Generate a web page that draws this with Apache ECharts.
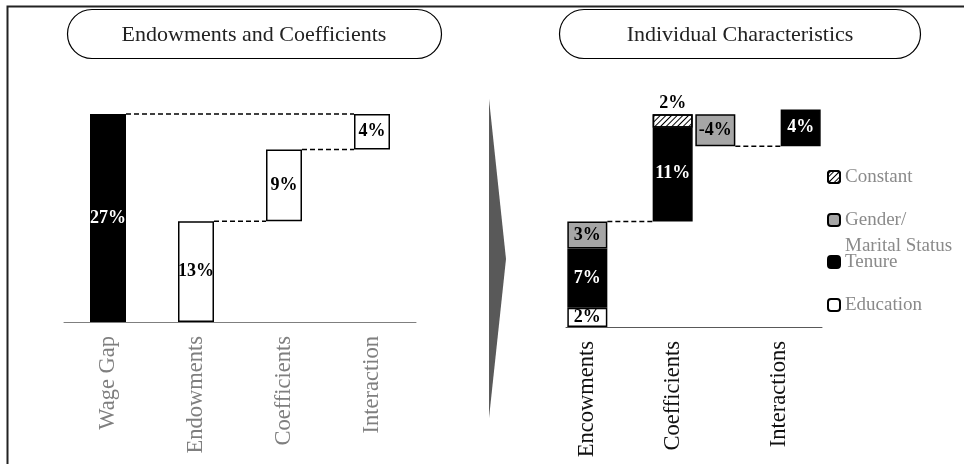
<!DOCTYPE html>
<html><head><meta charset="utf-8">
<script src="https://cdn.jsdelivr.net/npm/echarts@6/dist/echarts.min.js"></script>
<style>html,body{margin:0;padding:0;background:#fff}#c{width:964px;height:464px}</style>
</head><body><div id="c"></div>
<script>
// ---- Left panel: Endowments and Coefficients ----
const leftCategories = ['Wage Gap', 'Endowments', 'Coefficients', 'Interaction'];
const leftValues = [27, 13.1, 9.3, 4.6];
const leftLabels = ['27%', '13%', '9%', '4%'];

// ---- Right panel: Individual Characteristics ----
const rightCategories = ['Encowments', 'Coefficients', 'Interactions'];
// [endowments, coefficients]
const educationValues = [2.4, 0.3];
const tenureValues = [7.4, 11.4];
const genderValues = [3.4, -4.0];
const constantValues = [null, 1.7];
const interactionValue = 4.6;
const educationLabels = ['2%', ''];
const tenureLabels = ['7%', '11%'];
const genderLabels = ['3%', '-4%'];
const constantLabels = ['', '2%'];
const interactionLabel = '4%';
const legendNames = ['Constant', 'Gender/Marital Status', 'Tenure', 'Education'];

const FONT = "'Liberation Serif', 'DejaVu Serif', serif";
const GRAY_GENDER = '#a6a6a6';

// derived left waterfall
const leftBase = [0, 0, leftValues[1], leftValues[1] + leftValues[2]];
const leftConnectors = [
  [0, 3, leftValues[0]],
  [1, 2, leftValues[1]],
  [2, 3, leftValues[1] + leftValues[2]]
];

// derived right waterfall: 6 slots -> 0 endowments, 2 coefficients, 3 gender coef, 5 interactions
const endowTop = educationValues[0] + tenureValues[0] + genderValues[0];
const coefTop = endowTop + educationValues[1] + tenureValues[1] + constantValues[1];
const genderBottom = coefTop + genderValues[1];
const slots = ['s0', 's1', 's2', 's3', 's4', 's5'];
const rBase = [0, null, endowTop, genderBottom, null, genderBottom];
const rEdu = [educationValues[0], null, educationValues[1], null, null, null];
const rTen = [tenureValues[0], null, tenureValues[1], null, null, null];
const rGen = [genderValues[0], null, null, Math.abs(genderValues[1]), null, null];
const rConst = [null, null, constantValues[1], null, null, null];
const rInter = [null, null, null, null, null, interactionValue];
const slotLabel = {
  edu: [educationLabels[0], '', educationLabels[1], '', '', ''],
  ten: [tenureLabels[0], '', tenureLabels[1], '', '', ''],
  gen: [genderLabels[0], '', '', genderLabels[1], '', ''],
  con: ['', '', constantLabels[1], '', '', ''],
  int: ['', '', '', '', '', interactionLabel]
};
const rightConnectors = [
  [0, 2, endowTop],
  [3, 5, genderBottom]
];
const rightLabelPos = [0.5, 2.5, 5.0];

function connectorSeries(xi, yi, data, bw) {
  return {
    type: 'custom', xAxisIndex: xi, yAxisIndex: yi, data: data, silent: true, z: 1,
    encode: { x: 0, y: 2 },
    renderItem: function (params, api) {
      const p1 = api.coord([api.value(0), api.value(2)]);
      const p2 = api.coord([api.value(1), api.value(2)]);
      return {
        type: 'line',
        shape: { x1: p1[0] + bw / 2, y1: p1[1], x2: p2[0] - bw / 2, y2: p2[1] },
        style: { stroke: '#000', lineWidth: 1.5, lineDash: [5, 3] }
      };
    }
  };
}

const labelBase = { show: true, fontFamily: FONT, fontWeight: 'bold', fontSize: 18 };
const border = { borderColor: '#000', borderWidth: 1.5 };
const legendText = { color: '#8a8a8a', fontFamily: FONT, fontSize: 19, lineHeight: 24 };

const chart = echarts.init(document.getElementById('c'));
chart.setOption({
  animation: false,
  backgroundColor: '#fff',
  grid: [
    { left: 64, width: 352, top: 91, height: 231 },
    { left: 566, width: 256, top: 87, height: 240 }
  ],
  xAxis: [
    {
      type: 'category', gridIndex: 0, data: leftCategories, position: 'bottom',
      axisLine: { lineStyle: { color: '#7f7f7f', width: 1 } }, axisTick: { show: false },
      axisLabel: { rotate: 90, margin: 14, color: '#7f7f7f', fontFamily: FONT, fontSize: 22.5 }
    },
    {
      type: 'category', gridIndex: 1, data: slots, position: 'bottom',
      axisLine: { show: false }, axisTick: { show: false }, axisLabel: { show: false }
    },
    {
      type: 'value', gridIndex: 1, min: 0, max: 6, position: 'bottom',
      axisLine: { show: true, onZero: false, lineStyle: { color: '#595959', width: 1 } },
      axisTick: { show: false }, splitLine: { show: false },
      axisLabel: {
        customValues: rightLabelPos, rotate: 90, margin: 14, color: '#111',
        fontFamily: FONT, fontSize: 22.5,
        formatter: function (v) {
          const i = rightLabelPos.indexOf(v);
          return i >= 0 ? rightCategories[i] : '';
        }
      }
    }
  ],
  yAxis: [
    { type: 'value', gridIndex: 0, min: 0, max: 30, show: false },
    { type: 'value', gridIndex: 1, min: 0, max: 30, show: false }
  ],
  legend: [
    { data: [legendNames[0]], left: 827, top: 165, padding: 0, itemWidth: 12, itemHeight: 12, textStyle: legendText },
    { data: [legendNames[1]], left: 827, top: 181, padding: 0, itemWidth: 12, itemHeight: 12,
      formatter: function () { return '\nGender/\nMarital Status'; },
      textStyle: { color: '#8a8a8a', fontFamily: FONT, fontSize: 19, lineHeight: 26 } },
    { data: [legendNames[2]], left: 827, top: 250, padding: 0, itemWidth: 12, itemHeight: 12, textStyle: legendText },
    { data: [legendNames[3]], left: 827, top: 293, padding: 0, itemWidth: 12, itemHeight: 12, textStyle: legendText }
  ],
  graphic: [
    { type: 'rect', shape: { x: 7.5, y: 6.5, width: 1000, height: 500 },
      style: { fill: 'none', stroke: '#222', lineWidth: 2 }, silent: true },
    { type: 'rect', shape: { x: 67.5, y: 9.5, width: 374, height: 49, r: 24.5 },
      style: { fill: '#fff', stroke: '#000', lineWidth: 1.2 }, silent: true },
    { type: 'rect', shape: { x: 559.5, y: 9.5, width: 361, height: 49, r: 24.5 },
      style: { fill: '#fff', stroke: '#000', lineWidth: 1.2 }, silent: true },
    { type: 'text', x: 254, y: 35, silent: true,
      style: { text: 'Endowments and Coefficients', fill: '#222', font: "22px " + FONT, textAlign: 'center', textVerticalAlign: 'middle' } },
    { type: 'text', x: 740, y: 35, silent: true,
      style: { text: 'Individual Characteristics', fill: '#222', font: "22px " + FONT, textAlign: 'center', textVerticalAlign: 'middle' } },
    { type: 'polygon', shape: { points: [[489, 99], [506, 259], [489, 418]] },
      style: { fill: '#595959' }, silent: true }
  ],
  series: [
    // left waterfall
    { type: 'bar', name: 'leftBase', xAxisIndex: 0, yAxisIndex: 0, stack: 'L', barWidth: 36,
      data: leftBase, itemStyle: { color: 'transparent' }, silent: true },
    { type: 'bar', name: 'leftVal', xAxisIndex: 0, yAxisIndex: 0, stack: 'L', barWidth: 36,
      data: leftValues.map(function (v, i) {
        return { value: v, itemStyle: { color: i === 0 ? '#000' : '#fff' },
                 label: { color: i === 0 ? '#fff' : '#000' } };
      }),
      itemStyle: border,
      label: Object.assign({}, labelBase, { position: 'inside', formatter: function (p) { return leftLabels[p.dataIndex]; } })
    },
    connectorSeries(0, 0, leftConnectors, 36),
    // right waterfall
    { type: 'bar', name: 'rightBase', xAxisIndex: 1, yAxisIndex: 1, stack: 'R', barWidth: 40,
      data: rBase, itemStyle: { color: 'transparent' }, silent: true },
    { type: 'bar', name: legendNames[3], xAxisIndex: 1, yAxisIndex: 1, stack: 'R', barWidth: 40,
      data: rEdu, itemStyle: Object.assign({ color: '#fff' }, border),
      label: Object.assign({}, labelBase, { position: 'inside', color: '#000', formatter: function (p) { return slotLabel.edu[p.dataIndex]; } }) },
    { type: 'bar', name: legendNames[2], xAxisIndex: 1, yAxisIndex: 1, stack: 'R', barWidth: 40,
      data: rTen, itemStyle: Object.assign({ color: '#000' }, border),
      label: Object.assign({}, labelBase, { position: 'inside', color: '#fff', formatter: function (p) { return slotLabel.ten[p.dataIndex]; } }) },
    { type: 'bar', name: legendNames[1], xAxisIndex: 1, yAxisIndex: 1, stack: 'R', barWidth: 40,
      data: rGen, itemStyle: Object.assign({ color: GRAY_GENDER }, border),
      label: Object.assign({}, labelBase, { position: 'inside', color: '#000', formatter: function (p) { return slotLabel.gen[p.dataIndex]; } }) },
    { type: 'bar', name: legendNames[0], xAxisIndex: 1, yAxisIndex: 1, stack: 'R', barWidth: 40,
      data: rConst,
      itemStyle: Object.assign({ color: '#fff',
        decal: { symbol: 'rect', symbolSize: 1, color: '#000', dashArrayX: [1, 0], dashArrayY: [1, 3], rotation: -Math.PI / 4 } }, border),
      label: Object.assign({}, labelBase, { position: 'top', distance: 2, color: '#000', formatter: function (p) { return slotLabel.con[p.dataIndex]; } }) },
    { type: 'bar', name: 'Interactions', xAxisIndex: 1, yAxisIndex: 1, stack: 'R', barWidth: 40,
      data: rInter, itemStyle: Object.assign({ color: '#000' }, border),
      label: Object.assign({}, labelBase, { position: 'inside', color: '#fff', formatter: function (p) { return slotLabel.int[p.dataIndex]; } }) },
    connectorSeries(1, 1, rightConnectors, 40)
  ]
});
</script>
</body></html>
